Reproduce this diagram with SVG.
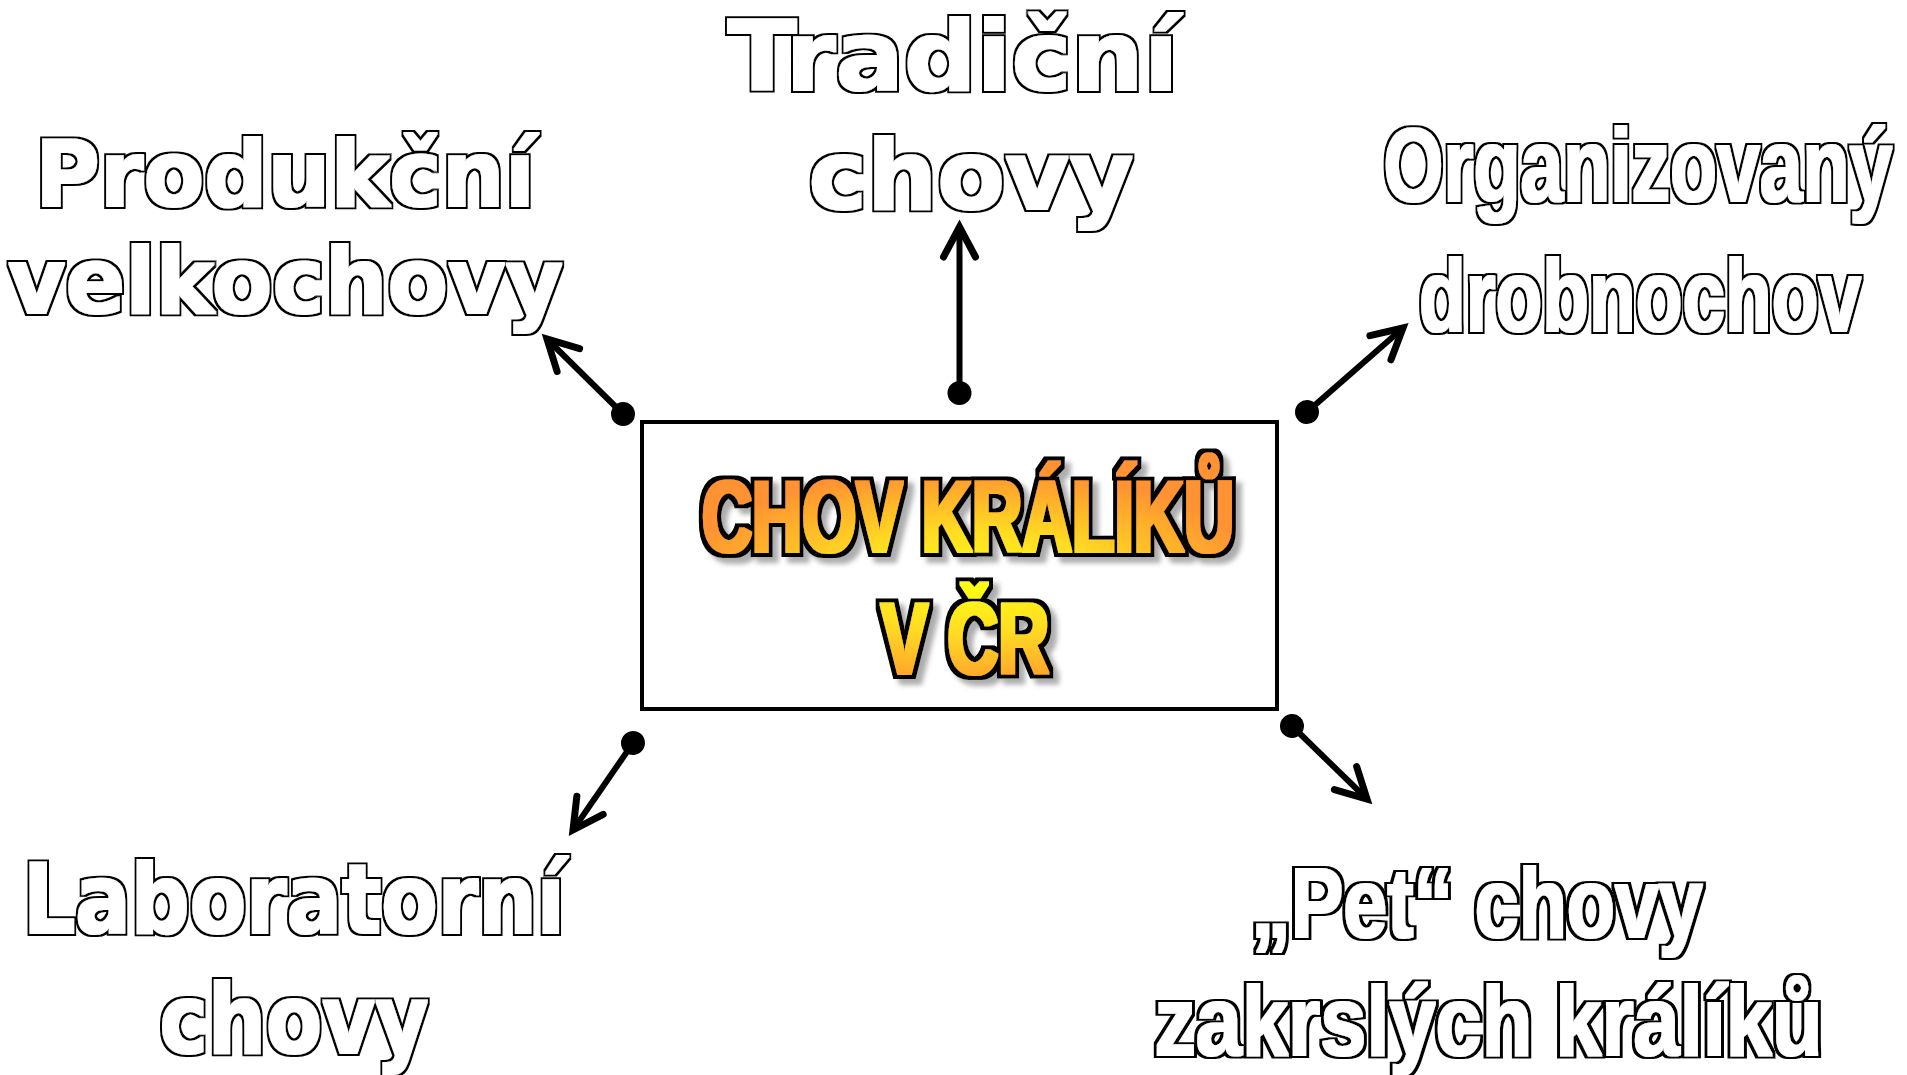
<svg xmlns="http://www.w3.org/2000/svg" width="1907" height="1075" viewBox="0 0 1907 1075">
<style>
.wide{font-family:"DejaVu Sans","Liberation Sans",sans-serif;font-weight:bold;fill:#000;text-anchor:middle;filter:url(#outline)}
.narrow{font-family:"Liberation Sans","Noto Sans",sans-serif;font-weight:bold;fill:#000;text-anchor:middle;filter:url(#outlineN)}
.title{font-family:"Liberation Sans","Noto Sans",sans-serif;font-weight:bold;font-size:102px;fill:url(#gold);text-anchor:middle;filter:url(#heavy)}
.conn{stroke:#000;stroke-width:6;fill:none;marker-start:url(#dot);marker-end:url(#head)}
</style>
<defs>
<radialGradient id="gold" gradientUnits="userSpaceOnUse" cx="0" cy="0" r="1" gradientTransform="translate(970 582) scale(290 112)">
<stop offset="0" stop-color="#FFFF14"/>
<stop offset="0.45" stop-color="#FFDC22"/>
<stop offset="1" stop-color="#FF9230"/>
</radialGradient>
<filter id="heavy" x="-10%" y="-25%" width="125%" height="160%">
<feMorphology in="SourceGraphic" operator="dilate" radius="2 1" result="fat"/>
<feMorphology in="SourceAlpha" operator="dilate" radius="5.5 4.5" result="ring"/>
<feFlood flood-color="#000"/>
<feComposite in2="ring" operator="in" result="ringb"/>
<feGaussianBlur in="ring" stdDeviation="2.5"/>
<feOffset dx="6" dy="6" result="sh0"/>
<feFlood flood-color="#999" flood-opacity="0.8"/>
<feComposite in2="sh0" operator="in" result="sh"/>
<feMerge><feMergeNode in="sh"/><feMergeNode in="ringb"/><feMergeNode in="fat"/></feMerge>
</filter>
<filter id="outline" x="-5%" y="-20%" width="110%" height="140%">
<feMorphology in="SourceAlpha" operator="dilate" radius="0.9" result="w"/>
<feMorphology in="SourceAlpha" operator="dilate" radius="3.4" result="k"/>
<feFlood flood-color="#000"/>
<feComposite in2="k" operator="in" result="kb"/>
<feFlood flood-color="#fff"/>
<feComposite in2="w" operator="in" result="wb"/>
<feMerge><feMergeNode in="kb"/><feMergeNode in="wb"/></feMerge>
</filter>
<filter id="outlineN" x="-5%" y="-20%" width="110%" height="140%">
<feMorphology in="SourceAlpha" operator="dilate" radius="1.2 0.9" result="w"/>
<feMorphology in="SourceAlpha" operator="dilate" radius="4.4 3.4" result="k"/>
<feFlood flood-color="#000"/>
<feComposite in2="k" operator="in" result="kb"/>
<feFlood flood-color="#fff"/>
<feComposite in2="w" operator="in" result="wb"/>
<feMerge><feMergeNode in="kb"/><feMergeNode in="wb"/></feMerge>
</filter>
<marker id="head" markerUnits="userSpaceOnUse" orient="auto" overflow="visible" refX="0" refY="0" markerWidth="1" markerHeight="1">
<path d="M-30 -16 L0 0 L-30 16" fill="none" stroke="#000" stroke-width="7" stroke-linecap="round" stroke-linejoin="miter" stroke-miterlimit="10"/>
</marker>
<marker id="dot" markerUnits="userSpaceOnUse" orient="auto" overflow="visible" refX="0" refY="0" markerWidth="1" markerHeight="1">
<circle cx="0" cy="0" r="12" fill="#000"/>
</marker>
</defs>
<rect width="1907" height="1075" fill="#fff"/>
<g id="connectors">
<path class="conn" d="M623 414 L547 339"/>
<path class="conn" d="M959.5 393 L959.5 227"/>
<path class="conn" d="M1307 412 L1403 328"/>
<path class="conn" d="M633 743 L573 830"/>
<path class="conn" d="M1292 726 L1367 799"/>
</g>
<g id="center">
<rect x="642" y="422" width="635" height="287" fill="#fff" stroke="#000" stroke-width="4"/>
<text class="title" x="968" y="552" textLength="532" lengthAdjust="spacingAndGlyphs">CHOV KRÁLÍKŮ</text>
<text class="title" x="965" y="674" textLength="168" lengthAdjust="spacingAndGlyphs">V ČR</text>
</g>
<g id="produkcni">
<text class="wide" font-size="90" x="285" y="206" textLength="500" lengthAdjust="spacingAndGlyphs">Produkční</text>
<text class="wide" font-size="90" x="285.5" y="313" textLength="555" lengthAdjust="spacingAndGlyphs">velkochovy</text>
</g>
<g id="tradicni">
<text class="wide" font-size="96" x="953" y="90" textLength="451" lengthAdjust="spacingAndGlyphs">Tradiční</text>
<text class="wide" font-size="96" x="971" y="209" textLength="325" lengthAdjust="spacingAndGlyphs">chovy</text>
</g>
<g id="organizovany">
<text class="narrow" font-size="104" transform="translate(1638 201) scale(0.74 1)">Organizovaný</text>
<text class="narrow" font-size="102" transform="translate(1640 331) scale(0.75 1)">drobnochov</text>
</g>
<g id="laboratorni">
<text class="wide" font-size="96" x="294" y="933" textLength="542" lengthAdjust="spacingAndGlyphs">Laboratorní</text>
<text class="wide" font-size="96" x="294" y="1053" textLength="269" lengthAdjust="spacingAndGlyphs">chovy</text>
</g>
<g id="pet">
<text class="narrow" font-size="98" transform="translate(1477 937) scale(0.805 1)">„Pet“ chovy</text>
<text class="narrow" font-size="98" transform="translate(1488.5 1055) scale(0.846 1)">zakrslých králíků</text>
</g>
</svg>
